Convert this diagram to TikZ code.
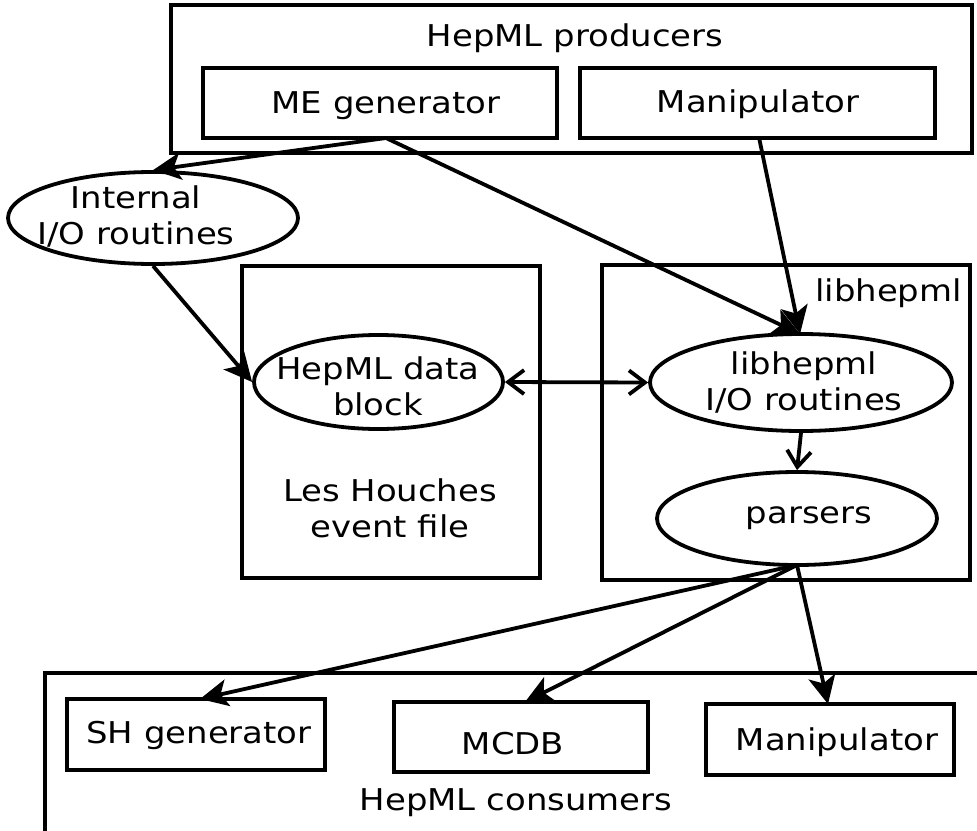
\documentclass[tikz,border=0pt]{standalone}
\usepackage{fontspec}
\setmainfont{DejaVu Sans}[FakeStretch=1.13]
\usetikzlibrary{arrows.meta,shapes.geometric}
\begin{document}
\begin{tikzpicture}[x=1pt,y=-1pt,
  lw/.style={line width=3.8pt},
  box/.style={draw,lw,rectangle,inner sep=0pt},
  ell/.style={draw,lw,ellipse,inner sep=0pt},
  txt/.style={font=\fontsize{30}{36}\selectfont,align=center,inner sep=0pt},
  arr/.style={lw,-{Stealth[length=28pt,width=27pt,inset=7pt]}},
  >={Straight Barb[length=16pt,width=24pt]}]
\useasboundingbox (0,0) rectangle (977,830);
% producers
\node[box,minimum width=801pt,minimum height=148pt] (prod) at (571.5,79) {};
\node[txt] (prodl) at (575,38) {HepML producers};
\node[box,minimum width=354pt,minimum height=70pt] (meg) at (380,103) {};
\node[txt] (megl) at (386,106) {ME generator};
\node[box,minimum width=355pt,minimum height=70pt] (man1) at (757.5,103) {};
\node[txt] (man1l) at (758,104) {Manipulator};
% internal
\node[ell,minimum width=290pt,minimum height=92pt] (int) at (153,218) {};
\node[txt] (intl) at (136,216) {Internal\\I/O routines};
% les houches
\node[box,minimum width=298pt,minimum height=312pt] (lh) at (391,422) {};
\node[txt] (lhl) at (390,508) {Les Houches\\event file};
\node[ell,minimum width=249pt,minimum height=94pt] (hdb) at (378.5,382) {};
\node[txt] (hdbl) at (378,386) {HepML data\\block};
% libhepml
\node[box,minimum width=368pt,minimum height=315pt] (lib) at (786,422.5) {};
\node[txt,anchor=east] (libl) at (962,293) {libhepml};
\node[ell,minimum width=302pt,minimum height=97pt] (lio) at (801,382.5) {};
\node[txt] (liol) at (804,382) {libhepml\\I/O routines};
\node[ell,minimum width=280pt,minimum height=93pt] (par) at (797,518.5) {};
\node[txt] (parl) at (809,518) {parsers};
% consumers
\draw[lw] (990,673) -- (45,673) -- (45,840);
\coordinate (cons) at (45,673);
\node[txt] (consl) at (516,803) {HepML consumers};
\node[box,minimum width=258pt,minimum height=71pt] (shg) at (196,734.5) {};
\node[txt] (shgl) at (199,735) {SH generator};
\node[box,minimum width=254pt,minimum height=70pt] (mcdb) at (521,737) {};
\node[txt] (mcdbl) at (513,744) {MCDB};
\node[box,minimum width=248pt,minimum height=71pt] (man2) at (830,739.5) {};
\node[txt] (man2l) at (837,742) {Manipulator};
% arrows
\coordinate (mego) at (386,138);
\coordinate (libin) at (800,334);
\coordinate (paro) at (797,565);
\draw[arr] (mego) -- (int.north);
\draw[arr] (mego) -- (libin);
\draw[arr] (man1.south) ++(2,0) coordinate (man1o) -- (libin);
\draw[arr] (int.south) -- (hdb.west);
\draw[lw,<->] (hdb.east) -- (lio.west);
\draw[lw,->] (lio.south) -- (par.north);
\draw[arr] (paro) -- (200,699);
\draw[arr] (paro) -- (525,702);
\draw[arr] (paro) -- (828,704);
\end{tikzpicture}
\end{document}
